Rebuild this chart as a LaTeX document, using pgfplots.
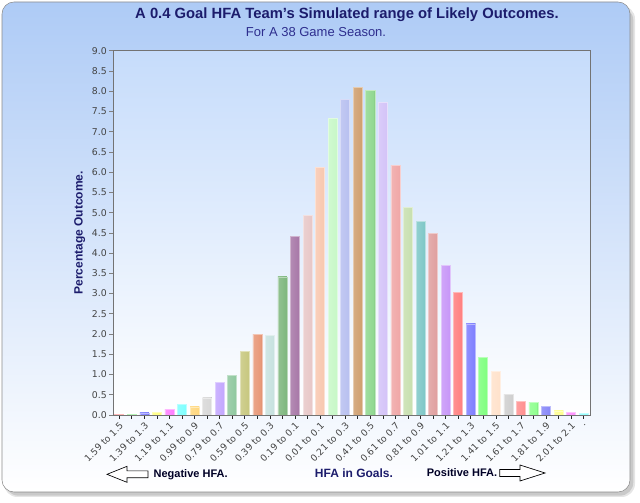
\documentclass[border=0pt]{standalone}
\usepackage{pgfplots}
\pgfplotsset{compat=1.18}
\usepackage{fontspec}
\setmainfont{Liberation Sans}
\newfontfamily\dejavu{DejaVu Sans}
\definecolor{frametop}{HTML}{AECBF6}
\definecolor{plottop}{HTML}{C6DCFB}
\definecolor{navy}{HTML}{1C1C6C}
\definecolor{navyb}{HTML}{2E2E8E}
\definecolor{tickc}{HTML}{444444}
\definecolor{c0}{HTML}{FF8080}
\definecolor{c1}{HTML}{80F080}
\definecolor{c2}{HTML}{8080FF}
\definecolor{c3}{HTML}{FFFF80}
\definecolor{c4}{HTML}{FF80FF}
\definecolor{c5}{HTML}{80FFFF}
\definecolor{c6}{HTML}{FFD880}
\definecolor{c7}{HTML}{D8D8D8}
\definecolor{c8}{HTML}{C4A8FF}
\definecolor{c9}{HTML}{90C8A0}
\definecolor{c10}{HTML}{C8C880}
\definecolor{c11}{HTML}{E89878}
\definecolor{c12}{HTML}{C8E2E0}
\definecolor{c13}{HTML}{80B880}
\definecolor{c14}{HTML}{A878A8}
\definecolor{c15}{HTML}{E8C8C8}
\definecolor{c16}{HTML}{F8C8B0}
\definecolor{c17}{HTML}{C8F8C8}
\definecolor{c18}{HTML}{B8C0F0}
\definecolor{c19}{HTML}{D0A070}
\definecolor{c20}{HTML}{90D890}
\definecolor{c21}{HTML}{D4C4F8}
\definecolor{c22}{HTML}{F0A8A8}
\definecolor{c23}{HTML}{C8E0B0}
\definecolor{c24}{HTML}{80C8C8}
\definecolor{c25}{HTML}{E0A0A0}
\definecolor{c26}{HTML}{C898F8}
\definecolor{c27}{HTML}{FF8080}
\definecolor{c28}{HTML}{8080FF}
\definecolor{c29}{HTML}{80FF80}
\definecolor{c30}{HTML}{FFE2CC}
\definecolor{c31}{HTML}{D0D0D0}
\definecolor{c32}{HTML}{FF9090}
\definecolor{c33}{HTML}{90FF90}
\definecolor{c34}{HTML}{8888F8}
\definecolor{c35}{HTML}{FFFF90}
\definecolor{c36}{HTML}{FF90FF}
\definecolor{c37}{HTML}{90FFFF}
\colorlet{barc}{red}
\pgfdeclarehorizontalshading[barc]{barshade}{100bp}{color(0bp)=(barc!55!white); color(20bp)=(barc!85!white); color(70bp)=(barc); color(74bp)=(barc!55!black); color(100bp)=(barc!75!black)}
\begin{document}
\begin{tikzpicture}
\useasboundingbox (0,0) rectangle (480pt,377.25pt);
% shadow
\fill[black, opacity=0.10, rounded corners=10pt] (3pt,4.5pt) rectangle (476.25pt,373pt);
\fill[black, opacity=0.12, rounded corners=10pt] (3.75pt,5.5pt) rectangle (475pt,372pt);
% frame
\shadedraw[rounded corners=9pt, top color=frametop, middle color=white, bottom color=white, draw=black!45] (1.5pt,8.25pt) rectangle (472.5pt,375.75pt);
% titles
\node[font=\bfseries\fontsize{11.1}{13}\selectfont, text=navy] at (260.25pt,366pt) {A 0.4 Goal HFA Team's Simulated range of Likely Outcomes.};
\node[font=\fontsize{9.75}{12}\selectfont, text=navyb] at (237pt,353pt) {For A 38 Game Season.};
% bottom labels
\node[font=\bfseries\fontsize{9}{11}\selectfont, text=navy] at (265.5pt,22.5pt) {HFA in Goals.};
\node[font=\bfseries\fontsize{8.25}{10}\selectfont, text=black!85!blue] at (143pt,21.5pt) {Negative HFA.};
\node[font=\bfseries\fontsize{8.25}{10}\selectfont, text=black!85!blue] at (346.5pt,22.5pt) {Positive HFA.};
\draw[black, fill=white, line width=0.5pt] (80.25pt,21.5pt) -- (95.25pt,27.5pt) -- (95.25pt,24.1pt) -- (111pt,24.1pt) -- (111pt,18.9pt) -- (95.25pt,18.9pt) -- (95.25pt,15.5pt) -- cycle;
\draw[black, fill=white, line width=0.5pt] (408.75pt,22.5pt) -- (390pt,28.5pt) -- (390pt,25.1pt) -- (374.75pt,25.1pt) -- (374.75pt,19.9pt) -- (390pt,19.9pt) -- (390pt,16.5pt) -- cycle;
\begin{axis}[
  at={(84.75pt,66pt)}, anchor=south west,
  width=357.75pt, height=273.2pt, scale only axis,
  xmin=-0.5, xmax=37.5, ymin=0, ymax=9,
  axis background/.style={top color=plottop, middle color=white, bottom color=white},
  axis line style={draw=black!55},
  ytick={0,0.5,...,9.0},
  xtick={0,...,37},
  xticklabels={1.59 to 1.5,,1.39 to 1.3,,1.19 to 1.1,,0.99 to 0.9,,0.79 to 0.7,,0.59 to 0.5,,0.39 to 0.3,,0.19 to 0.1,,0.01 to 0.1,,0.21 to 0.3,,0.41 to 0.5,,0.61 to 0.7,,0.81 to 0.9,,1.01 to 1.1,,1.21 to 1.3,,1.41 to 1.5,,1.61 to 1.7,,1.81 to 1.9,,2.01 to 2.1,.},
  xtick pos=bottom, ytick pos=left,
  tick align=outside, major tick length=3pt,
  xtick style={black!85, line width=0.5pt},
  ytick style={black!50, line width=0.5pt},
  /pgf/number format/assume math mode=true,
  yticklabel style={/pgf/number format/fixed, /pgf/number format/fixed zerofill, /pgf/number format/precision=1, font=\dejavu\fontsize{7}{8}\selectfont, text=tickc, inner sep=1.5pt},
  xticklabel style={rotate=45, anchor=east, font=\dejavu\fontsize{6.9}{8}\selectfont, text=tickc, inner sep=1pt, xshift=-0.5pt, yshift=-4pt},
  ylabel={Percentage Outcome.},
  ylabel style={font=\bfseries\fontsize{9}{11}\selectfont, text=navy},
  ybar, bar width=0.72, bar shift=0pt,
  bs/.style={/utils/exec={\colorlet{barc}{#1}}, fill=#1, shade, shading=barshade, draw=#1!55!white, line width=0.5pt},
]
\addplot[bs=c0] coordinates {(0,0.02)};
\addplot[bs=c1] coordinates {(1,0.02)};
\addplot[bs=c2] coordinates {(2,0.05)};
\addplot[bs=c3] coordinates {(3,0.07)};
\addplot[bs=c4] coordinates {(4,0.13)};
\addplot[bs=c5] coordinates {(5,0.26)};
\addplot[bs=c6] coordinates {(6,0.20)};
\addplot[bs=c7] coordinates {(7,0.42)};
\addplot[bs=c8] coordinates {(8,0.81)};
\addplot[bs=c9] coordinates {(9,0.98)};
\addplot[bs=c10] coordinates {(10,1.58)};
\addplot[bs=c11] coordinates {(11,2.00)};
\addplot[bs=c12] coordinates {(12,1.97)};
\addplot[bs=c13] coordinates {(13,3.41)};
\addplot[bs=c14] coordinates {(14,4.42)};
\addplot[bs=c15] coordinates {(15,4.94)};
\addplot[bs=c16] coordinates {(16,6.12)};
\addplot[bs=c17] coordinates {(17,7.32)};
\addplot[bs=c18] coordinates {(18,7.80)};
\addplot[bs=c19] coordinates {(19,8.10)};
\addplot[bs=c20] coordinates {(20,8.02)};
\addplot[bs=c21] coordinates {(21,7.72)};
\addplot[bs=c22] coordinates {(22,6.17)};
\addplot[bs=c23] coordinates {(23,5.12)};
\addplot[bs=c24] coordinates {(24,4.78)};
\addplot[bs=c25] coordinates {(25,4.49)};
\addplot[bs=c26] coordinates {(26,3.70)};
\addplot[bs=c27] coordinates {(27,3.02)};
\addplot[bs=c28] coordinates {(28,2.25)};
\addplot[bs=c29] coordinates {(29,1.42)};
\addplot[bs=c30] coordinates {(30,1.07)};
\addplot[bs=c31] coordinates {(31,0.51)};
\addplot[bs=c32] coordinates {(32,0.33)};
\addplot[bs=c33] coordinates {(33,0.31)};
\addplot[bs=c34] coordinates {(34,0.21)};
\addplot[bs=c35] coordinates {(35,0.10)};
\addplot[bs=c36] coordinates {(36,0.07)};
\addplot[bs=c37] coordinates {(37,0.03)};
\end{axis}
\end{tikzpicture}
\end{document}
